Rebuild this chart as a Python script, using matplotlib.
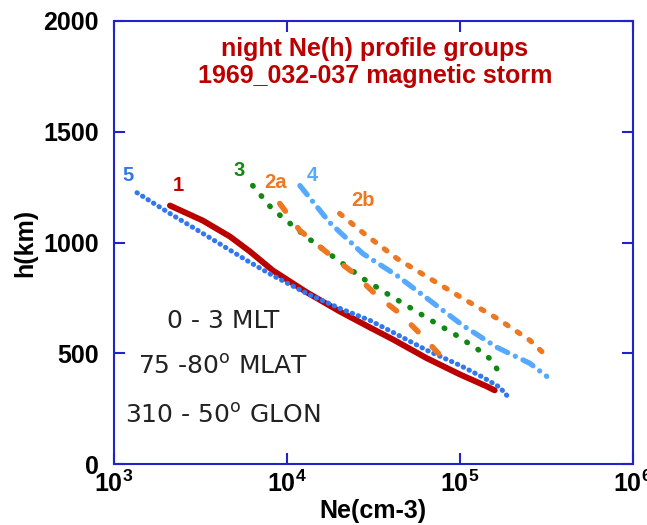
import matplotlib
matplotlib.use("Agg")
import matplotlib.pyplot as plt
from matplotlib.ticker import FixedLocator, FixedFormatter, NullLocator

plt.rcParams['font.family'] = ['Liberation Sans', 'DejaVu Sans']
plt.rcParams['mathtext.fontset'] = 'custom'
plt.rcParams['mathtext.rm'] = 'Liberation Sans'
plt.rcParams['mathtext.bf'] = 'Liberation Sans:bold'

# Ne(h) profiles: (Ne in cm-3, h in km)
ne_1 = [2.11e3, 3.27e3, 4.69e3, 6.11e3, 8.3e3, 1.306e4, 2.023e4, 3.017e4, 4.1e4, 6.44e4, 1.0e5, 1.43e5, 1.59e5]
h_1 = [1167, 1099, 1027, 960, 874, 775, 689, 617, 563, 478, 405, 351, 333]

ne_5 = [1.36e3, 2.11e3, 3.27e3, 5.87e3, 8.3e3, 1.306e4, 2.023e4, 3.017e4, 4.1e4, 6.44e4, 1.0e5, 1.36e5, 1.70e5, 1.89e5]
h_5 = [1225, 1131, 1041, 919, 851, 770, 703, 649, 595, 514, 446, 392, 347, 306]

ne_3 = [6.35e3, 8.2e3, 1.31e4, 2.38e4, 2.75e4, 3.78e4, 5.14e4, 6.98e4, 9.35e4, 1.27e5, 1.51e5, 1.66e5]
h_3 = [1257, 1153, 1023, 874, 838, 770, 707, 644, 586, 518, 473, 423]

ne_2a = [9.1e3, 1.19e4, 1.85e4, 2.41e4, 3.31e4, 4.5e4, 5.87e4, 7.98e4, 8.4e4]
h_2a = [1176, 1054, 933, 865, 761, 680, 590, 478, 460]

ne_4 = [1.19e4, 1.77e4, 2.75e4, 4.33e4, 6.7e4, 1.04e5, 1.64e5, 2.54e5, 3.18e5]
h_4 = [1257, 1090, 950, 851, 739, 626, 527, 455, 396]

ne_2b = [2.02e4, 2.75e4, 4.33e4, 6.7e4, 1.04e5, 1.64e5, 2.54e5, 3.23e5]
h_2b = [1131, 1045, 928, 838, 748, 658, 559, 482]

x_ticks = [1e3, 1e4, 1e5, 1e6]
x_labels = [r'$\mathbf{10^{3}}$', r'$\mathbf{10^{4}}$', r'$\mathbf{10^{5}}$', r'$\mathbf{10^{6}}$']
y_ticks = [0, 500, 1000, 1500, 2000]

fig = plt.figure(figsize=(6.47, 5.25), dpi=100)
ax = fig.add_axes([0.176, 0.116, 0.802, 0.844])

ax.plot(ne_1, h_1, color='#bb0000', lw=4.3, solid_capstyle='round')
ax.plot(ne_5, h_5, color='#3377ee', lw=3.6, ls=(0, (0.1, 1.2)), dash_capstyle='round')
ax.plot(ne_3, h_3, color='#118811', lw=4, ls=(0, (0.1, 2.3)), dash_capstyle='round')
ax.plot(ne_2a, h_2a, color='#ee7722', lw=4, ls=(0, (1.7, 3.7)), dash_capstyle='round')
ax.plot(ne_4, h_4, color='#55aaff', lw=3.8, ls=(0, (2.2, 1.6, 0.01, 1.6)), dash_capstyle='round')
ax.plot(ne_2b, h_2b, color='#ee7722', lw=3.8, ls=(0, (0.6, 2.1)), dash_capstyle='round')

lab_kw = dict(fontsize=14.5, fontweight='bold', ha='center', va='center')
ax.text(1.2e3, 1302, '5', color='#3377ee', **lab_kw)
ax.text(2.35e3, 1257, '1', color='#bb0000', **lab_kw)
ax.text(5.28e3, 1324, '3', color='#118811', **lab_kw)
ax.text(8.6e3, 1270, '2a', color='#ee7722', **lab_kw)
ax.text(1.41e4, 1302, '4', color='#55aaff', **lab_kw)
ax.text(2.75e4, 1189, '2b', color='#ee7722', **lab_kw)

title_kw = dict(transform=ax.transAxes, ha='center', va='center', color='#bb0000',
                fontsize=18, fontweight='bold')
ax.text(0.503, 0.936, 'night Ne(h) profile groups', **title_kw)
ax.text(0.503, 0.875, '1969_032-037 magnetic storm', **title_kw)

info_kw = dict(fontsize=18, color='#222222', ha='center', va='center', family='DejaVu Sans')
ax.text(4.27e3, 645, '0 - 3 MLT', **info_kw)
ax.text(4.27e3, 438, r'75 -80$^\mathregular{o}$ MLAT', **info_kw)
ax.text(4.27e3, 218, r'310 - 50$^\mathregular{o}$ GLON', **info_kw)

ax.set_xscale('log')
ax.set_xlim(1e3, 1e6)
ax.set_ylim(0, 2000)
ax.xaxis.set_major_locator(FixedLocator(x_ticks))
ax.xaxis.set_major_formatter(FixedFormatter(x_labels))
ax.xaxis.set_minor_locator(NullLocator())
ax.set_yticks(y_ticks)
ax.set_yticklabels([str(v) for v in y_ticks], fontweight='bold')

ax.tick_params(direction='in', length=8, width=1.5, color='#2222cc',
               top=True, right=True, labelsize=18)
ax.tick_params(axis='x', pad=5)
ax.tick_params(axis='y', pad=11)
for s in ax.spines.values():
    s.set_color('#2222cc')
    s.set_linewidth(1.5)

ax.set_xlabel('Ne(cm-3)', fontsize=18, fontweight='bold', labelpad=1)
ax.set_ylabel('h(km)', fontsize=18, fontweight='bold', labelpad=4)

fig.savefig('out.png', dpi=100)
